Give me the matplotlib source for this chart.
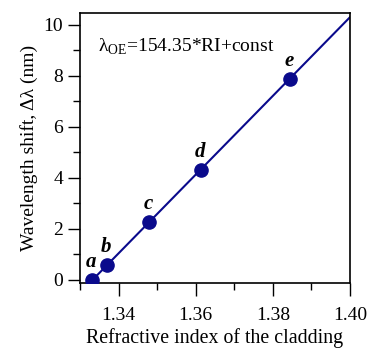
import matplotlib
matplotlib.use("Agg")
import matplotlib.pyplot as plt
import numpy as np
from matplotlib.ticker import MultipleLocator

plt.rcParams["font.family"] = "Liberation Serif"
plt.rcParams["mathtext.fontset"] = "custom"
plt.rcParams["mathtext.rm"] = "Liberation Serif"

# Data
refractive_index = [1.3331, 1.3370, 1.3479, 1.3613, 1.3844]
shift_nm = [0.0, 0.59, 2.27, 4.31, 7.88]
point_labels = ["a", "b", "c", "d", "e"]
slope = 154.35

fig = plt.figure(figsize=(3.69, 3.5), dpi=100)
ax = fig.add_axes([0.2168, 0.1914, 0.7317, 0.7716])

# Linear fit line with fixed slope
const = np.mean(np.array(shift_nm) - slope * np.array(refractive_index))
xf = np.array([refractive_index[0], 1.40])
ax.plot(xf, slope * xf + const, color="#0a0a8c", lw=1.5, zorder=2)
ax.plot(refractive_index, shift_nm, "o", color="#0a0a8c", ms=9.5, zorder=3)

for xv, yv, lab in zip(refractive_index, shift_nm, point_labels):
    ax.annotate(lab, (xv, yv), xytext=(-0.5, 13), textcoords="offset points",
                ha="center", va="center", fontsize=15,
                fontweight="bold", fontstyle="italic")

ax.text(0.065, 0.874, r"λ$_{\mathrm{OE}}$=154.35*RI+const", transform=ax.transAxes,
        fontsize=14, ha="left", va="center")

ax.set_xlim(1.33, 1.40)
ax.set_ylim(-0.12, 10.47)
ax.xaxis.set_minor_locator(MultipleLocator(0.01))
ax.yaxis.set_major_locator(MultipleLocator(2))
ax.yaxis.set_minor_locator(MultipleLocator(1))
ax.set_xticks([1.34, 1.36, 1.38, 1.40])
ax.set_xticklabels(["1.34", "1.36", "1.38", "1.40"])
ax.tick_params(which="major", direction="out", length=9, width=1, labelsize=14)
ax.tick_params(axis="x", which="major", pad=8)
ax.tick_params(axis="y", which="major", pad=3)
ax.tick_params(which="minor", direction="out", length=5, width=1)
for s in ax.spines.values():
    s.set_linewidth(1.2)

ax.set_xlabel("Refractive index of the cladding", fontsize=14.3, labelpad=3)
ax.set_ylabel("Wavelength shift, Δλ (nm)", fontsize=14, labelpad=4)

fig.savefig("out.png", dpi=100)
